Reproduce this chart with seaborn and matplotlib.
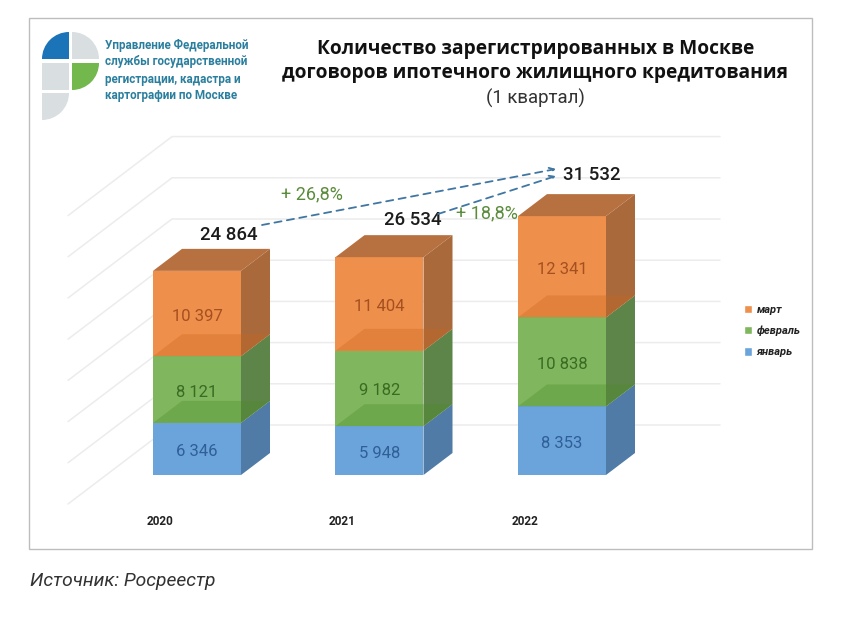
import numpy as np
import pandas as pd
import matplotlib
matplotlib.use("Agg")
import matplotlib.pyplot as plt
import seaborn as sns
from matplotlib.patches import Polygon, Patch, Rectangle, Wedge
from matplotlib.transforms import ScaledTranslation

# Data
years = ["2020", "2021", "2022"]
january = [6346, 5948, 8353]
february = [8121, 9182, 10838]
march = [10397, 11404, 12341]
month_names = ["март", "февраль", "январь"]
growth_labels = ["+ 26,8%", "+ 18,8%"]
logo_lines = ["Управление Федеральной", "службы государственной",
              "регистрации, кадастра и", "картографии по Москве"]

sns.set_style("white")
plt.rcParams["font.family"] = ["Roboto", "DejaVu Sans"]

W, H = 841, 630
fig = plt.figure(figsize=(W / 100, H / 100), dpi=100, facecolor="white")

# Chart axes: px 29-812 across, value 0 sits at px 475
ax = fig.add_axes([29 / W, 1 - 475 / H, 783 / W, 458 / H])
px_per_cat = 182.5
px_per_val = 0.00821
x_left = -(197 - 29) / px_per_cat
ax.set_xlim(x_left, x_left + 783 / px_per_cat)
ymax = 458 / px_per_val

low = np.array(january)
mid = low + np.array(february)
top = mid + np.array(march)
df = pd.DataFrame({"year": years, "jan": low, "feb": mid, "mar": top})

orange, green, blue = "#ee8f4c", "#80b75e", "#6ba4da"
bar_w = 88 / px_per_cat
sns.barplot(data=df, x="year", y="mar", color=orange, saturation=1, width=bar_w, linewidth=0, ax=ax)
sns.barplot(data=df, x="year", y="feb", color=green, saturation=1, width=bar_w, linewidth=0, ax=ax)
sns.barplot(data=df, x="year", y="jan", color=blue, saturation=1, width=bar_w, linewidth=0, ax=ax)

ax.set_xlim(x_left, x_left + 783 / px_per_cat)
ax.set_ylim(0, ymax)
ax.set_xlabel("")
ax.set_ylabel("")
ax.set_yticks([])
sns.despine(ax=ax, left=True, bottom=True)
ax.patch.set_alpha(0)
ax.tick_params(axis="x", length=0, pad=29)
ax.set_xticks(range(3), years, fontsize=8.5, fontweight="bold", color="#222222")
for lbl in ax.get_xticklabels():
    lbl.set_transform(lbl.get_transform() + ScaledTranslation(-0.37, 0, fig.dpi_scale_trans))

# 3D depth of the boxes
dx = 29 / px_per_cat
dy = 22 / px_per_val

# Back wall grid
grid_x0 = (172 - 197) / px_per_cat
grid_x1 = (720 - 197) / px_per_cat
for k in range(8):
    level = (475 - 425) / px_per_val + k * 41.2 / px_per_val
    ax.plot([grid_x0 - dx * 104 / 29, grid_x0, grid_x1],
            [level - dy * 79 / 22, level, level],
            color="#ececec", lw=1.1, zorder=0.5, clip_on=False)

side_cols = ["#4f7ba6", "#5e8549", "#a9693b"]
floor_cols = ["#4a8a26", "#c9661c"]
seg_cols = ["#2f5f97", "#3b6a22", "#a4501f"]
label_drop = 2.5 / px_per_val
for i in range(3):
    x0, x1 = i - bar_w / 2, i + bar_w / 2
    edges = [0, low[i], mid[i], top[i]]
    for j in range(3):
        v0, v1 = edges[j], edges[j + 1]
        ax.add_patch(Polygon([(x1, v0), (x1, v1), (x1 + dx, v1 + dy), (x1 + dx, v0 + dy)],
                             fc=side_cols[j], ec="none", zorder=2))
    # inner floors seen through the boxes
    for v, col in zip(edges[1:3], floor_cols):
        ax.add_patch(Polygon([(x0, v), (x1, v), (x1 + dx, v + dy), (x0 + dx, v + dy)],
                             fc=col, alpha=0.32, ec="none", zorder=3))
    v = top[i]
    ax.add_patch(Polygon([(x0, v), (x1, v), (x1 + dx, v + dy), (x0 + dx, v + dy)],
                         fc="#b7703f", ec="none", zorder=3))

    # Segment labels
    for j in range(3):
        val = edges[j + 1] - edges[j]
        ax.text(i, edges[j] + val / 2 - label_drop, f"{val:,}".replace(",", " "), ha="center",
                va="center", fontsize=12, color=seg_cols[j], zorder=4)

# Totals
total_off = [(32, 36), (33, 37), (29.5, 41)]
for i in range(3):
    ax.text(i + total_off[i][0] / px_per_cat, top[i] + total_off[i][1] / px_per_val,
            f"{top[i]:,}".replace(",", " "), ha="center", va="center",
            fontsize=13.4, fontweight="medium", color="#1c1c1c", zorder=5)

# Legend
handles = [Patch(fc=orange), Patch(fc=green), Patch(fc=blue)]
ax.legend(handles, month_names, loc="center left", bbox_to_anchor=(705 / 783, (475 - 331) / 458),
          frameon=False, handlelength=0.75, handleheight=0.75, handletextpad=0.4,
          labelspacing=1.0, prop={"size": 8, "weight": "bold", "style": "italic"},
          labelcolor="#222222")

# Overlay in pixel coordinates: frame, logo, title, arrows
ov = fig.add_axes([0, 0, 1, 1], zorder=5)
ov.set_xlim(0, W)
ov.set_ylim(H, 0)
ov.axis("off")
ov.add_patch(Rectangle((29.5, 17.5), 783, 531, fc="none", ec="#bdbdbd", lw=1))

gray = "#d9dee0"
ov.add_patch(Wedge((69, 59), 27, 180, 270, fc="#1b74b8", ec="none"))
ov.add_patch(Wedge((72, 59), 27, 270, 360, fc=gray, ec="none"))
ov.add_patch(Rectangle((42, 63), 27, 27, fc=gray, ec="none"))
ov.add_patch(Wedge((72, 63), 27, 0, 90, fc="#72b84c", ec="none"))
ov.add_patch(Wedge((42, 93), 27, 0, 90, fc=gray, ec="none"))
for line, y in zip(logo_lines, [45, 62, 79, 96]):
    ov.text(105, y, line, fontsize=8.4, fontweight="bold", color="#2b7f9e", va="center")

title_font = ["Open Sans", "DejaVu Sans"]
ov.text(535.5, 49, "Количество зарегистрированных в Москве", ha="center", va="center",
        fontsize=13.8, fontweight="bold", family=title_font, color="#111111")
ov.text(535.5, 73, "договоров ипотечного жилищного кредитования", ha="center", va="center",
        fontsize=13.8, fontweight="bold", family=title_font, color="#111111")
ov.text(535.5, 98, "(1 квартал)", ha="center", va="center", fontsize=13.4, color="#333333")

for start, end in [((262, 225), (556, 169)), ((438, 214), (556, 176))]:
    ov.annotate("", xy=end, xytext=start,
                arrowprops=dict(arrowstyle="->", color="#3f76a3", lw=1.3, linestyle=(0, (4, 3)),
                                shrinkA=0, shrinkB=0, mutation_scale=9))
for text, pos in zip(growth_labels, [(312, 194), (487, 213)]):
    ov.text(pos[0], pos[1], text, ha="center", va="center", fontsize=13, color="#5b8c3c")

ov.text(30, 581, "Источник: Росреестр", fontsize=13.9, style="italic", color="#333333", va="center")

fig.savefig("out.png", dpi=100)
